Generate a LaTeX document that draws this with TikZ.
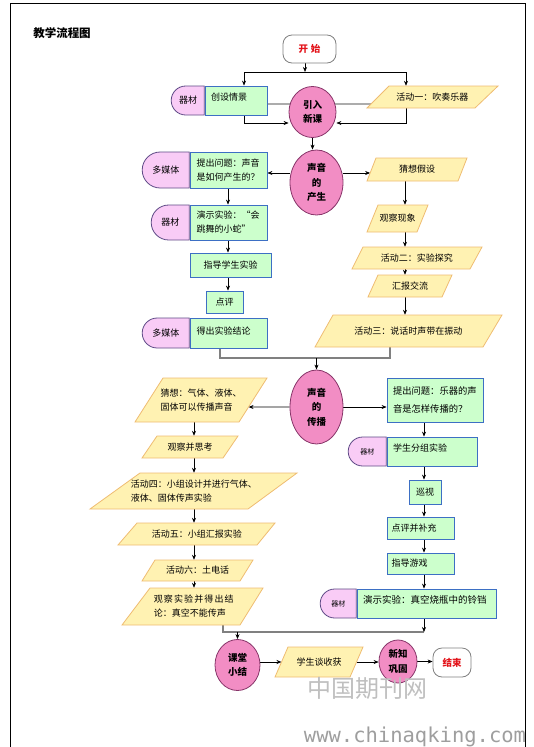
\documentclass[tikz,border=0pt]{standalone}
\usepackage{fontspec}
\setmainfont{Noto Sans CJK SC}
\newfontfamily\wmmono{DejaVu Sans Mono}
\usetikzlibrary{shapes.geometric,shapes.misc,arrows.meta,calc}
\pgfdeclarelayer{bg}
\pgfsetlayers{bg,main}
\definecolor{pillfill}{HTML}{F9CCF6}
\definecolor{pilldraw}{HTML}{5E4A86}
\definecolor{gfill}{HTML}{CCFFCC}
\definecolor{gdraw}{HTML}{3D6FC4}
\definecolor{pfill}{HTML}{FFF2B2}
\definecolor{pdraw}{HTML}{EFBC72}
\definecolor{cfill}{HTML}{F28DC4}
\definecolor{cdraw}{HTML}{873569}
\definecolor{startred}{HTML}{E3141B}
\definecolor{conngray}{HTML}{808080}
% name, ytop, ybot, xTL, xTR, xBL, xBR, text
\newcommand\mypara[8]{%
  \draw[parastyle] (#4,#2) -- (#5,#2) -- (#7,#3) -- (#6,#3) -- cycle;
  \coordinate (#1-tl) at (#4,#2); \coordinate (#1-tr) at (#5,#2);
  \coordinate (#1-bl) at (#6,#3); \coordinate (#1-br) at (#7,#3);
  \node[ptext, minimum height={#3-#2}, minimum width={#5-#4}] (#1) at ({(#4+#5+#6+#7)/4},{(#2+#3)/2}) {#8};}
\begin{document}
\begin{tikzpicture}[x=1pt,y=-1pt,font=\fontsize{9}{14}\selectfont,
  arr/.style={draw=black, line width=0.6pt, -{Stealth[length=5pt,width=4pt]}},
  plainline/.style={draw=black, line width=0.6pt},
  gline/.style={draw=conngray, line width=1.3pt},
  gbox/.style={rectangle, draw=gdraw, fill=gfill, line width=0.8pt, inner sep=0pt},
  pill/.style={rounded rectangle, rounded rectangle right arc=none, draw=pilldraw, fill=pillfill, line width=0.8pt, inner sep=0pt, anchor=east},
  circ/.style={ellipse, draw=cdraw, fill=cfill, line width=0.8pt, inner sep=0pt, align=center, font=\fontsize{9.5}{14.5}\selectfont\bfseries},
  term/.style={rectangle, rounded corners=9pt, draw=gray, fill=white, line width=0.8pt, text=startred, font=\fontsize{9.5}{11}\selectfont\bfseries},
  parastyle/.style={draw=pdraw, fill=pfill, line width=0.8pt},
  ptext/.style={inner sep=0pt, align=left},
  raisetxt/.style={text depth=#1}]
\useasboundingbox (0,0) rectangle (534,747);
% page frame
\draw[line width=1pt] (10,747) -- (10,3) -- (525,3) -- (525,747);
\node[font=\fontsize{11.5}{12}\selectfont\bfseries] (title) at (62,33) {教学流程图};

% column / row coordinates
\coordinate (colS) at (305,0);
\coordinate (colA) at (244,0);
\coordinate (colB) at (406,0);
\coordinate (colL) at (228,0);
\coordinate (colR) at (405,0);
\coordinate (colL2) at (194,0);
\coordinate (colR2) at (424,0);
\coordinate (b1) at (220,0);
\coordinate (b2) at (390,0);
\coordinate (b3) at (223,0);
\coordinate (hl) at (0,72);
\coordinate (g1) at (0,104);
\coordinate (g2) at (0,123);
\coordinate (bk) at (0,358);
\coordinate (bk2) at (0,632);

% top
\node[term, minimum width=53, minimum height=28] (start) at (309.5,49) {开\hspace{3pt}始};
\node[gbox, minimum width=62, minimum height=29, text width=50, align=left, raisetxt=8pt] (r1) at (236,100.5) {创设情景};
\node[pill, minimum width=33, minimum height=29] (m1) at (r1.west) {器材};
\node[circ, minimum width=47, minimum height=51] (c1) at (312.5,112) {引入\\新课};
\mypara{p1}{86}{108}{389}{498}{367}{475}{活动一：吹奏乐器}

% sound production
\node[circ, minimum width=53, minimum height=65] (c2) at (316.5,182.5) {声音\\的\\产生};
\node[gbox, minimum width=77, minimum height=36, text width=64, align=left] (r2) at (228.5,170) {提出问题：声音\\是如何产生的？};
\node[pill, minimum width=47, minimum height=36] (m2) at (r2.west) {多媒体};
\node[gbox, minimum width=77, minimum height=35, text width=64, align=left] (r3) at (228.5,222.5) {演示实验：“会\\跳舞的小蛇”};
\node[pill, minimum width=38, minimum height=35] (m3) at (r3.west) {器材};
\node[gbox, minimum width=81, minimum height=24] (r4) at (230.5,265) {指导学生实验};
\node[gbox, minimum width=37, minimum height=22] (r5) at (224.5,302) {点评};
\node[gbox, minimum width=77, minimum height=30, text width=64, align=left, raisetxt=4pt] (r6) at (228.5,333) {得出实验结论};
\node[pill, minimum width=47, minimum height=30] (m4) at (r6.west) {多媒体};

\mypara{p2}{158}{181}{376}{467}{367}{458}{猜想假设}
\mypara{p3}{205}{232}{378}{428}{367}{417}{观察现象}
\mypara{p4}{247}{269}{363}{482}{352}{470}{活动二：实验探究}
\mypara{p5}{275}{297}{378}{452}{368}{442}{汇报交流}
\mypara{p6}{315}{347}{333}{502}{315}{483}{活动三：说话时声带在振动}

% sound propagation
\node[circ, minimum width=53, minimum height=74] (c3) at (316.5,407) {声音\\的\\传播};
\mypara{p7}{378}{422}{163}{267}{135}{239}{猜想：气体、液体、\\固体可以传播声音}
\node[gbox, minimum width=96, minimum height=44, text width=84, align=left, font=\fontsize{9.3}{18}\selectfont] (r7) at (435,400) {提出问题：乐器的声\\音是怎样传播的？};
\node[gbox, minimum width=90, minimum height=29, text width=78, align=left, raisetxt=8pt] (r8) at (432,451.5) {学生分组实验};
\node[pill, minimum width=38, minimum height=29, font=\fontsize{7}{8}\selectfont] (m5) at (r8.west) {器材};
\node[gbox, minimum width=32, minimum height=24] (r9) at (425,492) {巡视};
\node[gbox, minimum width=67, minimum height=22, text width=58, align=left] (r10) at (420.5,528) {点评并补充};
\node[gbox, minimum width=67, minimum height=21, text width=58, align=left] (r11) at (420.5,563.5) {指导游戏};
\node[gbox, minimum width=139, minimum height=29, text width=127, align=left, raisetxt=8pt, font=\fontsize{9.5}{11}\selectfont] (r12) at (426.5,603.5) {演示实验：真空烧瓶中的铃铛};
\node[pill, minimum width=36, minimum height=29, font=\fontsize{7}{8}\selectfont] (m6) at (r12.west) {器材};

\mypara{p8}{436}{458}{157}{238}{142}{223}{观察并思考}
\mypara{p9}{473}{509}{140}{297}{90}{248}{活动四：小组设计并进行气体、\\液体、固体传声实验}
\mypara{p10}{523}{545}{137}{275}{118}{257}{活动五：小组汇报实验}
\mypara{p11}{560}{581}{155}{253}{142}{240}{活动六：土电话}
\mypara{p12}{588}{625}{150}{263}{122}{240}{\makebox[80pt][l]{观\hfill 察\hfill 实\hfill 验\hfill 并\hfill 得\hfill 出\hfill 结}\\论：真空不能传声}

% summary row
\node[circ, minimum width=45, minimum height=51] (c4) at (237.5,665) {课堂\\小结};
\mypara{p13}{647}{677}{288}{363}{275}{350}{学生谈收获}
\node[circ, minimum width=38, minimum height=43] (c5) at (398,661.5) {新知\\巩固};
\node[term, minimum width=38, minimum height=29] (fin) at (452,662.5) {结束};

% edge points on parallelograms
\coordinate (p1g) at ($(p1-tl)!0.818!(p1-bl)$);
\coordinate (p2g) at ($(p2-tl)!0.652!(p2-bl)$);
\coordinate (p7r) at ($(p7-tr)!0.659!(p7-br)$);
\coordinate (p13l) at ($(p13-tl)!0.5!(p13-bl)$);
\coordinate (p13r) at ($(p13-tr)!0.5!(p13-br)$);

\begin{pgfonlayer}{bg}
  \draw[arr] (start.south -| colS) -- (colS |- hl);
  \draw[plainline] (colA |- hl) -- (colB |- hl);
  \draw[arr] (colA |- hl) -- (r1.north -| colA);
  \draw[arr] (colB |- hl) -- (p1.north -| colB);
  \draw[gline] (r1.east |- g1) -- (p1g);
  \draw[arr] (r1.south -| colA) |- (c1.west |- g2);
  \draw[arr] (p1.south -| colB) |- (c1.east |- g2);
  \draw[arr] (c1.south) -- (c1.south |- c2.north);
  \draw[arr] (c2.west |- p2g) -- (r2.east |- p2g);
  \draw[arr] (c2.east |- p2g) -- (p2g);
  % left column
  \draw[arr] (r2.south -| colL) -- (r3.north -| colL);
  \draw[arr] (r3.south -| colL) -- (r4.north -| colL);
  \draw[arr] (r4.south -| colL) -- (r5.north -| colL);
  % right column
  \draw[arr] (p2.south -| colR) -- (p3.north -| colR);
  \draw[arr] (p3.south -| colR) -- (p4.north -| colR);
  \draw[arr] (p4.south -| colR) -- (p5.north -| colR);
  \draw[arr] (p5.south -| colR) -- (p6.north -| colR);
  % merge
  \draw[gline] (r6.south -| b1) -- (b1 |- bk) -- (b2 |- bk) -- (p6.south -| b2);
  \draw[arr] (c3.north |- bk) -- (c3.north);
  \draw[arr] (c3.west) -- (p7r);
  \draw[arr] (c3.east) -- (r7.west |- c3.east);
  % lower left
  \draw[arr] (p7.south -| colL2) -- (p8.north -| colL2);
  \draw[arr] (p8.south -| colL2) -- (p9.north -| colL2);
  \draw[arr] (p9.south -| colL2) -- (p10.north -| colL2);
  \draw[arr] (p10.south -| colL2) -- (p11.north -| colL2);
  \draw[arr] (p11.south -| colL2) -- (p12.north -| colL2);
  % lower right
  \draw[arr] (r7.south -| colR2) -- (r8.north -| colR2);
  \draw[arr] (r8.south -| colR2) -- (r9.north -| colR2);
  \draw[arr] (r9.south -| colR2) -- (r10.north -| colR2);
  \draw[arr] (r10.south -| colR2) -- (r11.north -| colR2);
  \draw[arr] (r11.south -| colR2) -- (r12.north -| colR2);
  % merge 2
  \draw[gline] (p12.south -| b3) -- (b3 |- bk2) -- (colR2 |- bk2);
  \draw[arr] (r12.south -| colR2) -- (colR2 |- bk2);
  \draw[arr] (c4.north |- bk2) -- (c4.north);
  % summary row
  \draw[arr] (c4.east |- p13l) -- (p13l);
  \draw[arr] (p13r) -- (c5.west |- p13r);
  \draw[arr] (c5.east) -- (fin.west |- c5.east);
\end{pgfonlayer}

% watermark
\node[text=black!25, font=\fontsize{24}{24}\selectfont] (wm1) at (367,688) {中国期刊网};
\node[text=black!38, font=\wmmono\fontsize{20.5}{20}\selectfont] (wm2) at (415,737) {www.chinaqking.com};
\end{tikzpicture}
\end{document}
